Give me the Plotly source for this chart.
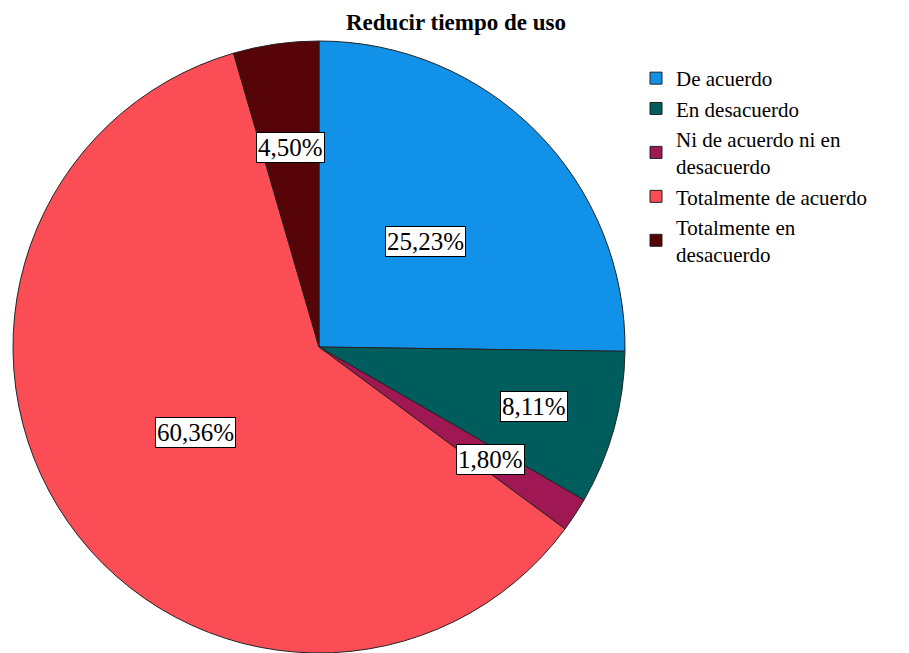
import math
import plotly.graph_objects as go

# ---- data ----
categories = ["De acuerdo", "En desacuerdo", "Ni de acuerdo ni en<br>desacuerdo",
              "Totalmente de acuerdo", "Totalmente en<br>desacuerdo"]
counts = [28, 9, 2, 67, 5]
percent_labels = ["25,23%", "8,11%", "1,80%", "60,36%", "4,50%"]
colors = ["#1192e8", "#005d5d", "#9f1853", "#fa4d56", "#570408"]
title_text = "Reducir tiempo de uso"

# ---- layout geometry (pixels) ----
W, H = 909, 653
cx, cy, r = 319, 347, 306
label_radius = [0.49, 0.73, 0.67, 0.49, 0.66]
SERIF = "Liberation Serif"

dom_x = [(cx - r) / W, (cx + r) / W]
dom_y = [1 - (cy + r) / H, 1 - (cy - r) / H]
dom_y = [max(0, dom_y[0]), dom_y[1]]

fig = go.Figure()
fig.add_trace(go.Pie(
    labels=categories,
    values=counts,
    sort=False,
    direction="clockwise",
    rotation=0,
    textinfo="none",
    hoverinfo="label+percent",
    marker=dict(colors=colors, line=dict(color="#222222", width=1)),
    domain=dict(x=dom_x, y=dom_y),
))

total = sum(counts)
cum = 0
annotations = []
for v, lab, f in zip(counts, percent_labels, label_radius):
    mid = (cum + v / 2) / total * 2 * math.pi
    cum += v
    px = cx + r * f * math.sin(mid)
    py = cy - r * f * math.cos(mid)
    annotations.append(dict(
        x=px / W, y=1 - py / H, xref="paper", yref="paper",
        text=lab, showarrow=False,
        font=dict(family=SERIF, size=25, color="black"),
        bgcolor="white", bordercolor="black", borderwidth=1, borderpad=1,
        xanchor="center", yanchor="middle",
    ))

fig.update_layout(
    width=W, height=H,
    margin=dict(l=0, r=0, t=0, b=0),
    paper_bgcolor="white", plot_bgcolor="white",
    title=dict(text="<b>" + title_text + "</b>", x=456 / W, xanchor="center",
               y=1 - 22 / H, yanchor="middle",
               font=dict(family=SERIF, size=23, color="black")),
    legend=dict(x=636 / W, xanchor="left", y=1 - 58 / H, yanchor="top",
                font=dict(family=SERIF, size=21, color="black"),
                traceorder="normal", bgcolor="rgba(0,0,0,0)"),
    annotations=annotations,
    font=dict(family=SERIF, color="black"),
)

fig.write_html("out.html", config={"displayModeBar": False},
               post_script="document.body.style.margin='0';document.body.style.padding='0';")
